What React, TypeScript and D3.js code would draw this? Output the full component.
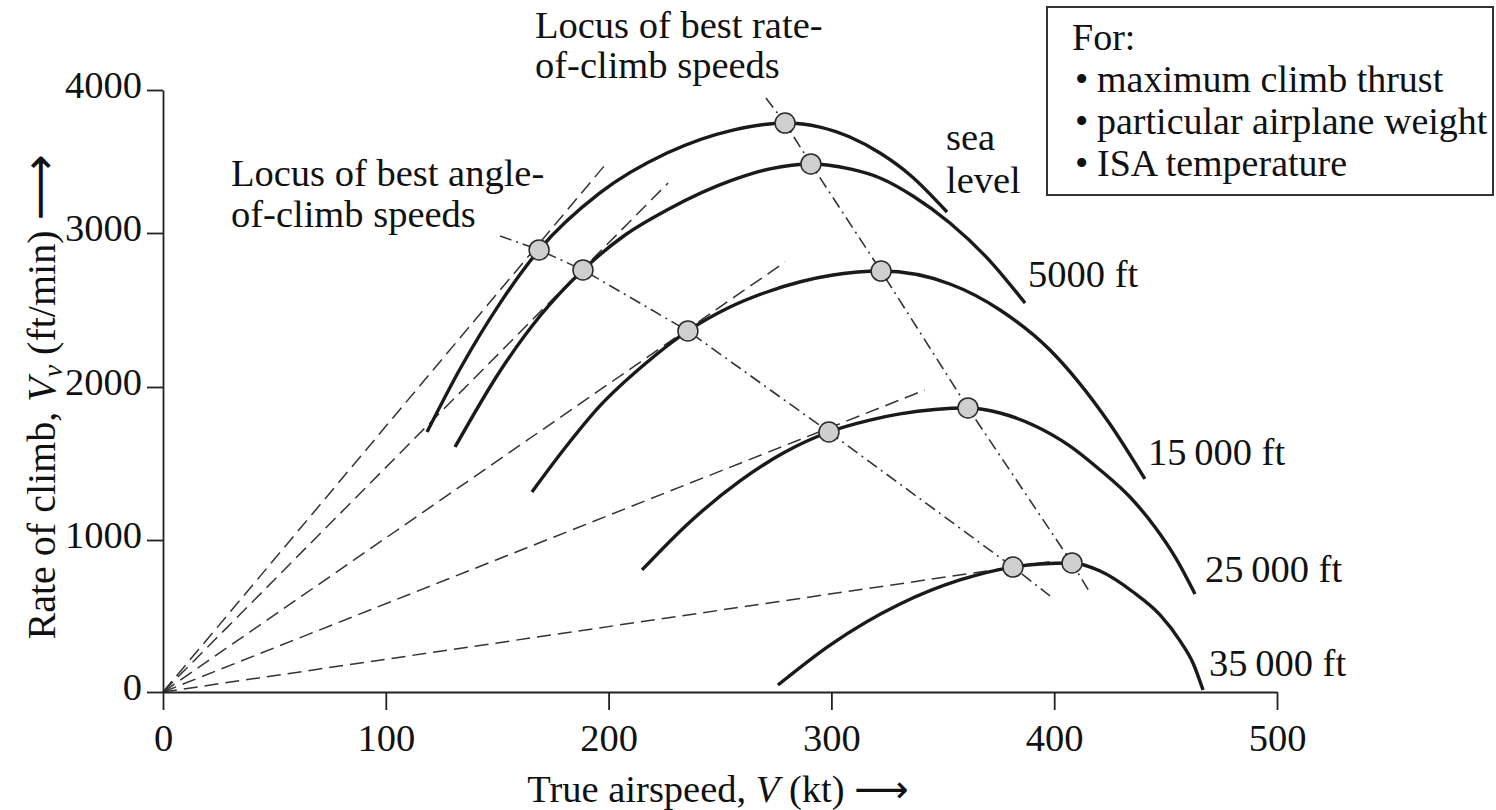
import React, { useEffect, useRef } from "react";
import * as d3 from "d3";

const width = 1496;
const height = 810;
const margin = { top: 90, right: 219, bottom: 118, left: 163 };
const font = "'Liberation Serif', 'Times New Roman', serif";
const fontSize = 38.5;

// axis ticks
const xTicks = [0, 100, 200, 300, 400, 500];
const yTicks = [0, 1000, 2000, 3000, 4000];
// the printed y axis is not quite evenly spaced; pixel rows of the ticks
const yTickRows = [692, 540, 387, 233, 90];

// rate of climb (ft/min) vs true airspeed (kt)
const seaLevel = [[118.5, 1706], [133.3, 2117], [151.3, 2545], [168.8, 2890], [196.1, 3280], [226.2, 3559], [255.8, 3720], [279.2, 3769], [294.9, 3741], [308.3, 3671], [321.8, 3559], [335.3, 3406], [351.9, 3147]];
const ft5000 = [[131.1, 1608], [151.3, 2104], [169.2, 2461], [188.5, 2760], [207.4, 2987], [226.2, 3161], [255.8, 3371], [272.4, 3448], [290.8, 3483], [308.3, 3448], [321.8, 3385], [336.6, 3259], [353.2, 3070], [371.2, 2818], [386.9, 2545]];
const ft15000 = [[165.6, 1314], [180.4, 1601], [196.1, 1876], [216.3, 2149], [235.6, 2364], [254.5, 2519], [271.1, 2617], [300.7, 2727], [322.3, 2753], [353.2, 2669], [375.7, 2500], [398.1, 2240], [410.2, 2045], [425.0, 1758], [440.7, 1399]];
const ft25000 = [[215.0, 803], [236.5, 1118], [259.0, 1386], [279.2, 1575], [298.9, 1706], [317.3, 1784], [330.8, 1824], [361.3, 1863], [375.7, 1830], [390.5, 1752], [407.1, 1614], [420.6, 1458], [434.0, 1281], [445.2, 1085], [455.1, 868], [463.2, 645]];
const ft35000 = [[276.0, 46], [299.4, 309], [330.8, 579], [357.7, 737], [381.5, 822], [393.6, 842], [408.0, 849], [420.6, 796], [435.4, 658], [447.5, 507], [456.5, 336], [462.3, 191], [466.8, 13]];
const curves = [seaLevel, ft5000, ft15000, ft25000, ft35000];

// best angle-of-climb points (tangent from the origin) and best rate-of-climb points
const bestAngle = [[168.8, 2890], [188.5, 2760], [235.6, 2364], [298.9, 1706], [381.5, 822]];
const bestRate = [[279.2, 3769], [290.8, 3483], [322.3, 2753], [361.3, 1863], [408.0, 849]];

// far ends of the dashed tangent lines
const tangentEnds = [[198.4, 3476], [226.7, 3350], [279.2, 2812], [341.9, 1980], [400.4, 862]];

// ends of the two loci (dash-dot)
const angleLocusEnds = [[151.3, 2981], [398.1, 632]];
const rateLocusEnds = [[270.6, 3944], [415.6, 664]];

const legendLines = ["maximum climb thrust", "particular airplane weight", "ISA temperature"];

const x = d3.scaleLinear().domain([0, 500]).range([margin.left, width - margin.right]);
const y = d3.scaleLinear().domain(yTicks).range(yTickRows);

const curveLine = d3
  .line<number[]>()
  .x(d => x(d[0]))
  .y(d => y(d[1]))
  .curve(d3.curveMonotoneX);

const straight = d3
  .line<number[]>()
  .x(d => x(d[0]))
  .y(d => y(d[1]));

export default function App() {
  const xAxisRef = useRef<SVGGElement>(null);
  const yAxisRef = useRef<SVGGElement>(null);

  useEffect(() => {
    const xAxis = d3.axisBottom(x).tickValues(xTicks).tickSize(18).tickSizeOuter(0).tickPadding(14).tickFormat(d3.format("d"));
    const yAxis = d3.axisLeft(y).tickValues(yTicks).tickSize(16).tickSizeOuter(0).tickPadding(5).tickFormat(d3.format("d"));
    const gx = d3.select(xAxisRef.current).call(xAxis as any);
    const gy = d3.select(yAxisRef.current).call(yAxis as any);
    [gx, gy].forEach(g => {
      g.attr("font-size", fontSize).attr("font-family", font);
      g.selectAll("path, line").attr("stroke", "#222").attr("stroke-width", 1.8);
      g.selectAll("text").attr("fill", "#111");
    });
    gy.selectAll("text").attr("dy", "0.2em");
  }, []);

  const angleLocus = [angleLocusEnds[0], ...bestAngle, angleLocusEnds[1]];
  const rateLocus = [rateLocusEnds[0], ...bestRate, rateLocusEnds[1]];

  return (
    <svg width={width} height={height} style={{ position: "absolute", left: 0, top: 0, background: "#fff" }} fontFamily={font} fill="#111">
      {/* dashed tangents from the origin */}
      <g fill="none" stroke="#333" strokeWidth={1.5} strokeDasharray="14 7">
        {tangentEnds.map((d, i) => (
          <path key={i} d={straight([[0, 0], d]) || ""} />
        ))}
      </g>
      {/* loci */}
      <g fill="none" stroke="#333" strokeWidth={1.6} strokeDasharray="12 5 2 5">
        <path d={straight(angleLocus) || ""} />
        <path d={straight(rateLocus) || ""} />
      </g>
      {/* climb curves */}
      <g fill="none" stroke="#1a1a1a" strokeWidth={3.4}>
        {curves.map((c, i) => (
          <path key={i} d={curveLine(c) || ""} />
        ))}
      </g>
      {/* markers */}
      <g fill="#cfcfcf" stroke="#2a2a2a" strokeWidth={1.5}>
        {bestAngle.concat(bestRate).map((d, i) => (
          <circle key={i} cx={x(d[0])} cy={y(d[1])} r={10} />
        ))}
      </g>

      <g ref={xAxisRef} transform={`translate(0,${y(0)})`} />
      <g ref={yAxisRef} transform={`translate(${x(0)},0)`} />

      {/* axis titles */}
      <text x={(x(0) + x(500)) / 2 - 2} y={802} textAnchor="middle" fontSize={fontSize}>
        True airspeed, <tspan fontStyle="italic">V</tspan> (kt) <tspan fontFamily="'DejaVu Sans'" fontSize={38}>⟶</tspan>
      </text>
      <text transform={`translate(55,${(y(0) + y(4000)) / 2 + 6}) rotate(-90)`} textAnchor="middle" fontSize={40}>
        Rate of climb, <tspan fontStyle="italic">V</tspan>
        <tspan fontStyle="italic" fontSize={28} dy={7}>v</tspan>
        <tspan dy={-7}> (ft/min) </tspan>
        <tspan fontFamily="'DejaVu Sans'" fontSize={46}>⟶</tspan>
      </text>

      {/* annotations */}
      <g fontSize={fontSize}>
        <text x={535} y={38}>Locus of best rate-</text>
        <text x={535} y={78}>of-climb speeds</text>
        <text x={231} y={186}>Locus of best angle-</text>
        <text x={231} y={227}>of-climb speeds</text>
        <text x={946} y={150}>sea</text>
        <text x={946} y={193}>level</text>
        <text x={1028} y={287}>5000 ft</text>
        <text x={1148} y={465}>15{"\u2009"}000 ft</text>
        <text x={1205} y={582}>25{"\u2009"}000 ft</text>
        <text x={1209} y={676}>35{"\u2009"}000 ft</text>
      </g>

      {/* legend box */}
      <rect x={1047} y={7} width={446} height={188} fill="none" stroke="#333" strokeWidth={2} />
      <g fontSize={38}>
        <text x={1072} y={50}>For:</text>
        {legendLines.map((t, i) => (
          <g key={t}>
            <text x={1075} y={92 + i * 42}>•</text>
            <text x={1097} y={92 + i * 42}>{t}</text>
          </g>
        ))}
      </g>
    </svg>
  );
}
